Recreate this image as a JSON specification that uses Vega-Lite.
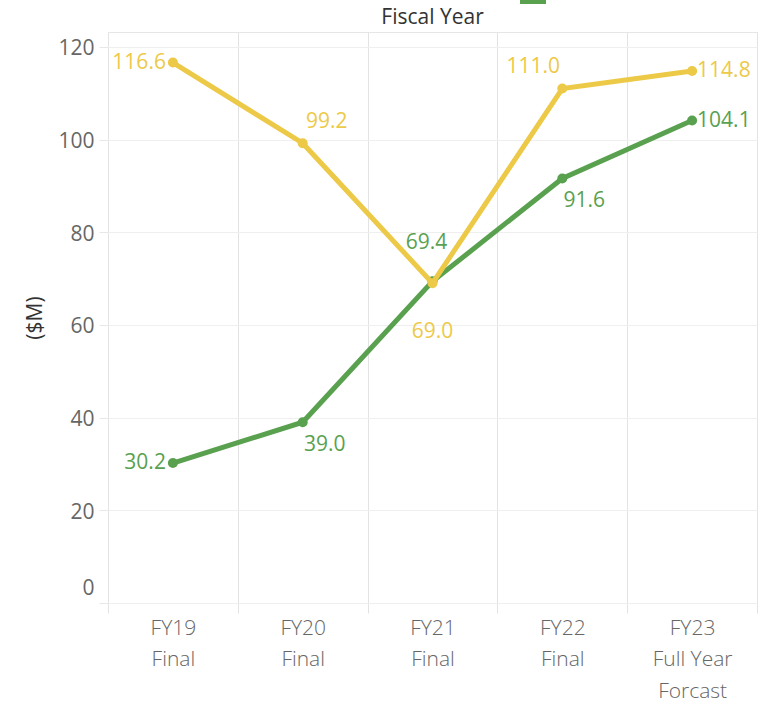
{
  "$schema": "https://vega.github.io/schema/vega-lite/v6.json",
  "width": 649,
  "height": 571,
  "autosize": {"type": "none"},
  "padding": {"left": 108, "top": 32, "right": 8, "bottom": 99},
  "background": "white",
  "config": {"font": "Open Sans", "view": {"stroke": "#e6e6e6", "strokeWidth": 1}},
  "title": {"text": "Fiscal Year", "fontSize": 21, "fontWeight": 500, "color": "#333333", "anchor": "middle", "baseline": "alphabetic", "offset": 9, "dy": 104, "font": "Open Sans"},
  "data": {"values": [
    {"period": "FY19|Final", "series": "Revenue", "value": 116.6},
    {"period": "FY20|Final", "series": "Revenue", "value": 99.2},
    {"period": "FY21|Final", "series": "Revenue", "value": 69.0},
    {"period": "FY22|Final", "series": "Revenue", "value": 111.0},
    {"period": "FY23|Full Year|Forcast", "series": "Revenue", "value": 114.8},
    {"period": "FY19|Final", "series": "Expenditures", "value": 30.2},
    {"period": "FY20|Final", "series": "Expenditures", "value": 39.0},
    {"period": "FY21|Final", "series": "Expenditures", "value": 69.4},
    {"period": "FY22|Final", "series": "Expenditures", "value": 91.6},
    {"period": "FY23|Full Year|Forcast", "series": "Expenditures", "value": 104.1}
  ]},
  "encoding": {
    "x": {
      "field": "period", "type": "nominal",
      "sort": ["FY19|Final", "FY20|Final", "FY21|Final", "FY22|Final", "FY23|Full Year|Forcast"],
      "scale": {"type": "band", "paddingInner": 0, "paddingOuter": 0},
      "axis": {
        "title": null, "labelExpr": "split(datum.label, '|')", "labelAngle": 0,
        "labelFontSize": 21, "labelFontWeight": 300, "labelColor": "#666666", "labelPadding": 4,
        "labelLineHeight": 31.5,
        "labelBaseline": "top", "tickBand": "extent", "tickSize": 10, "tickColor": "#e3e3e3",
        "grid": true, "gridColor": "#e3e3e3", "domain": false
      }
    },
    "y": {
      "field": "value", "type": "quantitative",
      "scale": {"domain": [0, 123.2], "nice": false, "zero": true},
      "axis": {
        "title": "($M)", "values": [0, 20, 40, 60, 80, 100, 120],
        "grid": true, "gridColor": "#efefef", "tickColor": "#e8e8e8", "tickSize": 9, "domain": false,
        "labelFontSize": 21, "labelColor": "#666666", "labelPadding": 5,
        "labelOffset": {"condition": {"test": "datum.value === 0", "value": -15}, "value": 2},
        "titleFontSize": 21, "titleColor": "#333333", "titleFontWeight": 500, "titlePadding": 12
      }
    },
    "color": {
      "field": "series", "type": "nominal",
      "scale": {"domain": ["Revenue", "Expenditures"], "range": ["#EDC948", "#59A14F"]},
      "legend": {
        "orient": "none", "legendX": 412, "legendY": -82, "direction": "vertical", "title": null,
        "symbolType": "square", "symbolSize": 676, "symbolStrokeWidth": 0,
        "labelFontSize": 17, "labelColor": "#666666", "rowPadding": 2, "padding": 0, "labelOffset": 10,
        "encode": {"symbols": {"update": {"fill": {"scale": "color", "field": "value"}, "fillOpacity": {"value": 1}}}}
      }
    }
  },
  "layer": [
    {
      "transform": [{"filter": "datum.series === 'Expenditures'"}],
      "mark": {"type": "line", "strokeWidth": 5, "point": {"filled": true, "size": 100}}
    },
    {
      "transform": [{"filter": "datum.series === 'Revenue'"}],
      "mark": {"type": "line", "strokeWidth": 5, "point": {"filled": true, "size": 100}}
    },
    {
      "transform": [{"filter": "datum.period === 'FY19|Final'"}],
      "mark": {"type": "text", "align": "right", "baseline": "middle", "dx": -7, "fontSize": 21},
      "encoding": {"text": {"field": "value", "type": "quantitative", "format": ".1f"}}
    },
    {
      "transform": [{"filter": "datum.period === 'FY23|Full Year|Forcast'"}],
      "mark": {"type": "text", "align": "left", "baseline": "middle", "dx": 5, "fontSize": 21},
      "encoding": {"text": {"field": "value", "type": "quantitative", "format": ".1f"}}
    },
    {
      "transform": [{"filter": "datum.series === 'Revenue' && datum.period === 'FY20|Final'"}],
      "mark": {"type": "text", "align": "center", "baseline": "middle", "dx": 24, "dy": -21, "fontSize": 21},
      "encoding": {"text": {"field": "value", "type": "quantitative", "format": ".1f"}}
    },
    {
      "transform": [{"filter": "datum.series === 'Revenue' && datum.period === 'FY21|Final'"}],
      "mark": {"type": "text", "align": "center", "baseline": "middle", "dx": 0, "dy": 49, "fontSize": 21},
      "encoding": {"text": {"field": "value", "type": "quantitative", "format": ".1f"}}
    },
    {
      "transform": [{"filter": "datum.series === 'Revenue' && datum.period === 'FY22|Final'"}],
      "mark": {"type": "text", "align": "center", "baseline": "middle", "dx": -29, "dy": -22, "fontSize": 21},
      "encoding": {"text": {"field": "value", "type": "quantitative", "format": ".1f"}}
    },
    {
      "transform": [{"filter": "datum.series === 'Expenditures' && (datum.period === 'FY20|Final' || datum.period === 'FY22|Final')"}],
      "mark": {"type": "text", "align": "center", "baseline": "middle", "dx": 22, "dy": 23, "fontSize": 21},
      "encoding": {"text": {"field": "value", "type": "quantitative", "format": ".1f"}}
    },
    {
      "transform": [{"filter": "datum.series === 'Expenditures' && datum.period === 'FY21|Final'"}],
      "mark": {"type": "text", "align": "center", "baseline": "middle", "dx": -6, "dy": -38, "fontSize": 21},
      "encoding": {"text": {"field": "value", "type": "quantitative", "format": ".1f"}}
    }
  ]
}
